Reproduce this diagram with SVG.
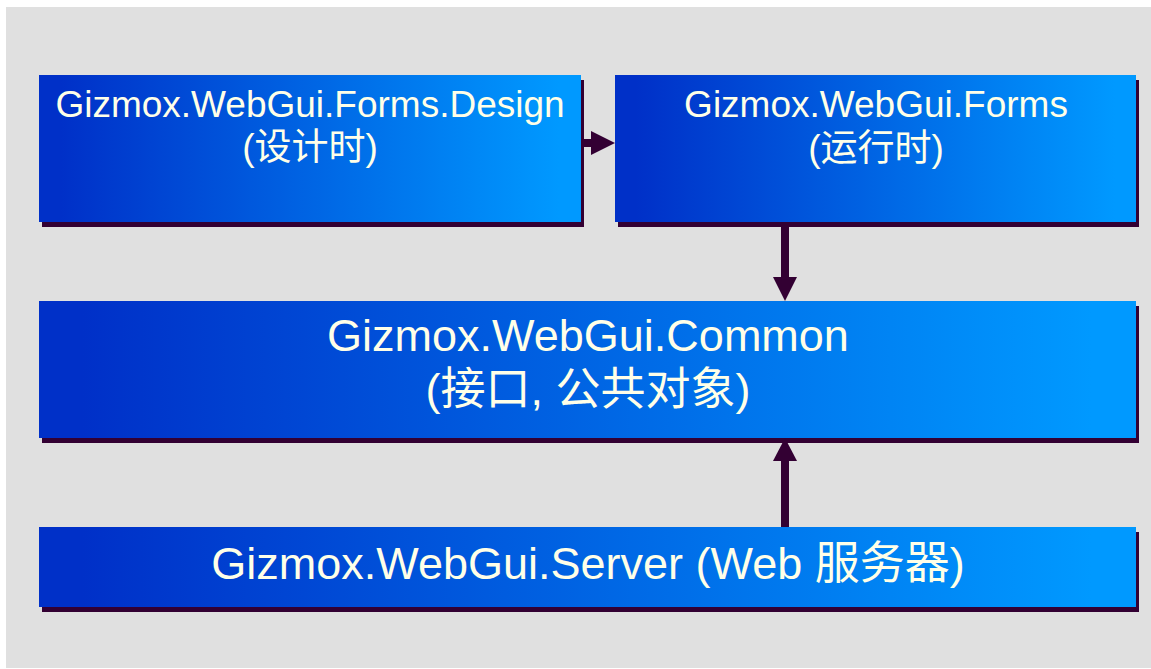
<svg xmlns="http://www.w3.org/2000/svg" width="1151" height="669" viewBox="0 0 1151 669">
<style>
.box{fill:url(#g)}
.sh{fill:#330033}
.t{font-family:"Liberation Sans","Noto Sans CJK SC",Arial,sans-serif;fill:#FFFFE8;text-anchor:middle}
.s{font-size:37px}
.l{font-size:45px}
.c{fill:#330033}
</style>
<defs>
<linearGradient id="g" x1="0" y1="0" x2="1" y2="0">
<stop offset="0.04" stop-color="#0030C8"/>
<stop offset="0.96" stop-color="#0099FF"/>
</linearGradient>
</defs>
<rect x="0" y="0" width="1151" height="669" fill="#FFFFFF"/>
<rect x="6" y="7" width="1145" height="661" fill="#E0E0E0"/>
<g id="design">
<rect class="sh" x="42" y="80" width="542" height="147"/>
<rect class="box" x="39" y="75" width="542" height="147"/>
<text class="t s" x="310" y="117">Gizmox.WebGui.Forms.Design</text>
<text class="t s" x="310" y="160">(设计时)</text>
</g>
<g id="forms">
<rect class="sh" x="618" y="80" width="521" height="147"/>
<rect class="box" x="615" y="75" width="521" height="147"/>
<text class="t s" x="876" y="117">Gizmox.WebGui.Forms</text>
<text class="t s" x="876" y="161">(运行时)</text>
</g>
<g id="common">
<rect class="sh" x="42" y="306" width="1097" height="137"/>
<rect class="box" x="39" y="301" width="1097" height="137"/>
<text class="t l" x="588" y="351">Gizmox.WebGui.Common</text>
<text class="t l" x="588" y="405">(接口, 公共对象)</text>
</g>
<g id="server">
<rect class="sh" x="42" y="532" width="1097" height="80"/>
<rect class="box" x="39" y="527" width="1097" height="80"/>
<text class="t l" x="588" y="579">Gizmox.WebGui.Server (Web 服务器)</text>
</g>
<g id="connectors">
<rect class="c" x="581" y="139" width="12" height="8"/>
<polygon class="c" points="591,131 615,143 591,155"/>
<rect class="c" x="781" y="222" width="8" height="56"/>
<polygon class="c" points="773,277 797,277 785,301"/>
<rect class="c" x="781" y="459" width="8" height="68"/>
<polygon class="c" points="773,461 797,461 785,438"/>
</g>
</svg>
